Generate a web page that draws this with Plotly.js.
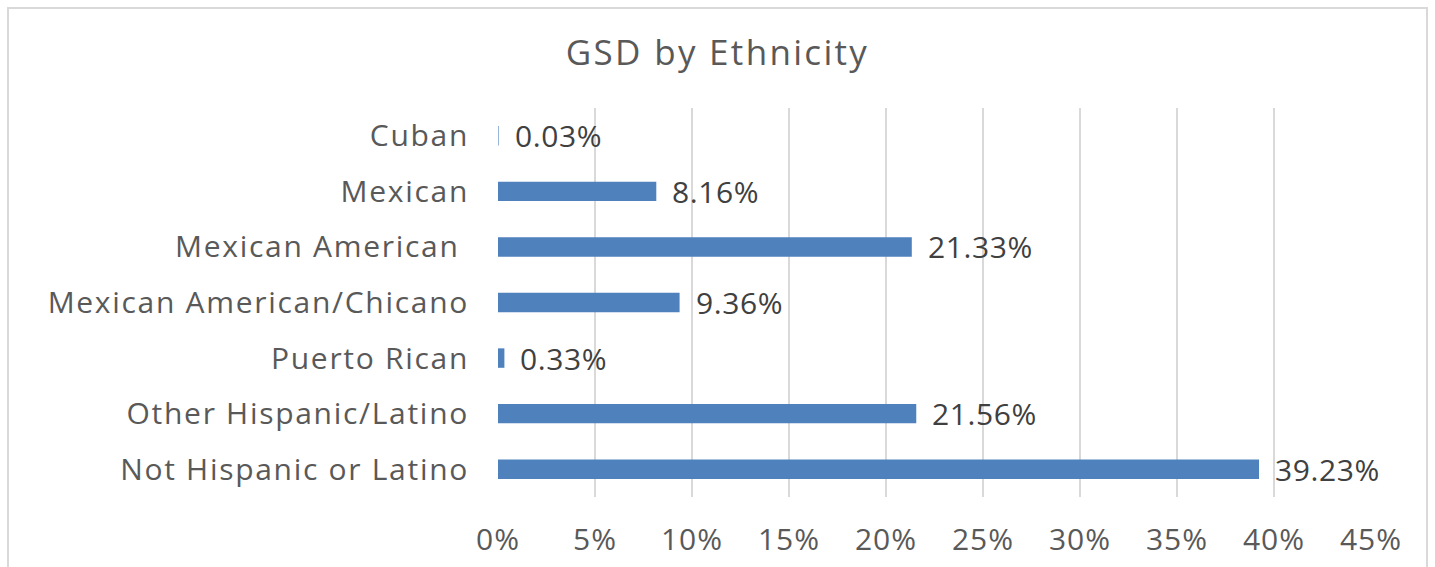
<!DOCTYPE html>
<html>
<head>
<meta charset="utf-8">
<script src="https://cdn.plot.ly/plotly-3.0.1.min.js"></script>
<style>
html,body{margin:0;padding:0;background:#fff;overflow:hidden;}
#wrap{position:relative;width:1435px;height:567px;overflow:hidden;}
#frame{position:absolute;left:7px;top:7px;width:1421px;height:620px;border:2px solid #d9d9d9;box-sizing:border-box;pointer-events:none;z-index:5;}
#chart{position:absolute;left:0;top:0;width:1435px;height:567px;}
#chart g.ytick text{letter-spacing:1.7px;}
#chart g.xtick text{letter-spacing:1px;}
#chart text.gtitle{letter-spacing:2.3px;}
#chart text.annotation-text{letter-spacing:0.6px;}
</style>
</head>
<body>
<div id="wrap"><div id="chart"></div><div id="frame"></div></div>
<script>
const categories = ["Cuban", "Mexican", "Mexican American ", "Mexican American/Chicano", "Puerto Rican", "Other Hispanic/Latino", "Not Hispanic or Latino"];
const values = [0.03, 8.16, 21.33, 9.36, 0.33, 21.56, 39.23];
const tickValues = [0, 5, 10, 15, 20, 25, 30, 35, 40, 45];
const tickLabels = ["0%", "5%", "10%", "15%", "20%", "25%", "30%", "35%", "40%", "45%"];
const chartTitle = "GSD by Ethnicity";

const FONT = "'Open Sans', sans-serif";
const TXT = "#595959";

const trace = {
  type: "bar",
  orientation: "h",
  x: values,
  y: categories,
  width: 0.35,
  marker: {color: "#4F81BD", line: {width: 0}},
  hoverinfo: "skip"
};

const annotations = values.map((v, i) => ({
  x: v, y: categories[i], xref: "x", yref: "y",
  text: v.toFixed(2) + "%",
  showarrow: false, xanchor: "left", yanchor: "middle", align: "left",
  xshift: 14,
  font: {family: FONT, size: 30, color: "#404040"}
}));

const layout = {
  width: 1435, height: 567,
  margin: {l: 498, r: 64, t: 108, b: 70},
  paper_bgcolor: "#ffffff", plot_bgcolor: "#ffffff",
  showlegend: false,
  title: {text: chartTitle, x: 0.5, xref: "container", xanchor: "center",
          y: 1 - 53/567, yref: "container", yanchor: "middle",
          font: {family: FONT, size: 35, color: TXT}},
  xaxis: {
    range: [0, 45], tickvals: tickValues, ticktext: tickLabels,
    showgrid: true, gridcolor: "#d9d9d9", gridwidth: 1.5,
    zeroline: false, showline: false, ticks: "",
    ticklabelstandoff: 22,
    tickfont: {family: FONT, size: 30, color: TXT},
    fixedrange: true
  },
  yaxis: {
    type: "category", autorange: "reversed",
    showgrid: false, zeroline: false, showline: false, ticks: "",
    ticklabelstandoff: 28,
    tickfont: {family: FONT, size: 30, color: TXT},
    fixedrange: true
  },
  annotations: annotations
};

Plotly.newPlot("chart", [trace], layout, {displayModeBar: false, staticPlot: true});
</script>
</body>
</html>
